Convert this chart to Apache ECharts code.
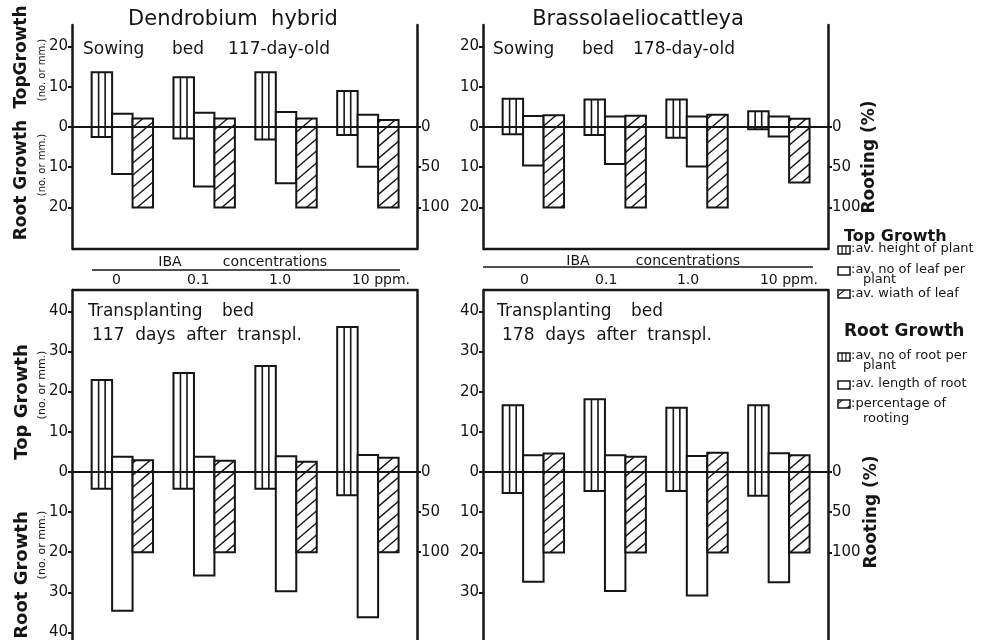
<!DOCTYPE html>
<html><head><meta charset="utf-8">
<script src="https://cdn.jsdelivr.net/npm/echarts@6/dist/echarts.min.js"></script>
<style>html,body{margin:0;padding:0;background:#fff}#c{width:1002px;height:640px}</style>
</head><body><div id="c"></div><script>
// ---------- data ----------
const concLabels = ['0', '0.1', '1.0', '10 ppm.'];
// Dendrobium hybrid, sowing bed (117-day-old)
const dsHeight   = [13.6, 12.3, 13.6, 8.9];
const dsLeafNo   = [3.3, 3.5, 3.7, 3.0];
const dsLeafWid  = [2.1, 2.1, 2.1, 1.7];
const dsRootNo   = [2.5, 2.9, 3.1, 2.0];
const dsRootLen  = [11.7, 14.8, 14.0, 9.9];
const dsRooting  = [100, 100, 100, 100];
// Brassolaeliocattleya, sowing bed (178-day-old)
const bsHeight   = [7.0, 6.8, 6.8, 3.9];
const bsLeafNo   = [2.7, 2.6, 2.6, 2.6];
const bsLeafWid  = [2.9, 2.75, 3.0, 2.0];
const bsRootNo   = [1.8, 2.0, 2.7, 0.6];
const bsRootLen  = [9.6, 9.2, 9.8, 2.4];
const bsRooting  = [100, 100, 100, 69];
// Dendrobium hybrid, transplanting bed (117 days after transpl.)
const dtHeight   = [22.9, 24.6, 26.4, 36.1];
const dtLeafNo   = [3.75, 3.75, 3.9, 4.2];
const dtLeafWid  = [2.9, 2.75, 2.5, 3.5];
const dtRootNo   = [4.2, 4.2, 4.2, 5.8];
const dtRootLen  = [34.6, 25.8, 29.7, 36.2];
const dtRooting  = [100, 100, 100, 100];
// Brassolaeliocattleya, transplanting bed (178 days after transpl.)
const btHeight   = [16.6, 18.1, 16.0, 16.6];
const btLeafNo   = [4.15, 4.15, 4.0, 4.65];
const btLeafWid  = [4.6, 3.8, 4.8, 4.2];
const btRootNo   = [5.2, 4.7, 4.7, 5.9];
const btRootLen  = [27.3, 29.6, 30.7, 27.4];
const btRooting  = [100, 100, 100, 100];
// tick labels
const topTicks      = [-20, -10, 0, 10, 20];
const botLeftTicks  = [-40, -30, -20, -10, 0, 10, 20, 30, 40];
const botRightTicks = [-30, -20, -10, 0, 10, 20, 30, 40];
const rootingTicks  = [0, 50, 100];

// ---------- style / layout ----------
const FONT = 'DejaVu Sans';
const INK = '#151515';
const XMIN = -0.615, XMAX = 3.6, BW = 0.25;
const PW = 345;

const panels = [
  {left: 72,  top: 25,  h: 224, ext: [-30.3, 25.3], root: [-126.5, 151.5], ticks: topTicks,
   d: [dsHeight, dsRootNo, dsLeafNo, dsRootLen, dsLeafWid, dsRooting]},
  {left: 483, top: 25,  h: 224, ext: [-30.3, 25.3], root: [-126.5, 151.5], ticks: topTicks,
   d: [bsHeight, bsRootNo, bsLeafNo, bsRootLen, bsLeafWid, bsRooting]},
  {left: 72,  top: 290, h: 350, ext: [-41.8, 45.3], root: [-226.5, 209], ticks: botLeftTicks,
   d: [dtHeight, dtRootNo, dtLeafNo, dtRootLen, dtLeafWid, dtRooting]},
  {left: 483, top: 290, h: 350, ext: [-41.8, 45.3], root: [-226.5, 209], ticks: botRightTicks,
   d: [btHeight, btRootNo, btLeafNo, btRootLen, btLeafWid, btRooting]}
];

const HS = 0.85, HSTEP = 12;
function hatchLines(x0, x1, yt, yb, lw) {
  const out = [];
  const cmin = yt + HS * x0, cmax = yb + HS * x1;
  for (let C = Math.ceil(cmin / HSTEP) * HSTEP; C <= cmax; C += HSTEP) {
    let ax = x0, ay = C - HS * x0, bx = x1, by = C - HS * x1;
    if (ay > yb) { ax = (C - yb) / HS; ay = yb; }
    if (by < yt) { bx = (C - yt) / HS; by = yt; }
    if (bx - ax > 0.5) out.push({type: 'line', shape: {x1: ax, y1: ay, x2: bx, y2: by},
      style: {stroke: INK, lineWidth: lw}});
  }
  return out;
}
function barShape(kind, x0, x1, yt, yb, lw) {
  const ch = [{type: 'rect', shape: {x: x0, y: yt, width: x1 - x0, height: yb - yt}, style: {fill: '#fff', stroke: null}}];
  if (kind === 'stripe') {
    [0.34, 0.66].forEach(f => {
      const x = x0 + (x1 - x0) * f;
      ch.push({type: 'line', shape: {x1: x, y1: yt, x2: x, y2: yb}, style: {stroke: INK, lineWidth: lw * 0.8}});
    });
  } else if (kind === 'hatch') {
    hatchLines(x0, x1, yt, yb, lw * 0.7).forEach(l => ch.push(l));
  }
  ch.push({type: 'rect', shape: {x: x0, y: yt, width: x1 - x0, height: yb - yt}, style: {fill: null, stroke: INK, lineWidth: lw}});
  return ch;
}
function renderer(kind, slot) {
  return function (params, api) {
    const i = api.value(0), v = api.value(1);
    const a = api.coord([i + slot * BW - BW / 2, 0]);
    const b = api.coord([i + slot * BW + BW / 2, v]);
    const x0 = Math.min(a[0], b[0]), x1 = Math.max(a[0], b[0]);
    const yt = Math.min(a[1], b[1]), yb = Math.max(a[1], b[1]);
    return {type: 'group', children: barShape(kind, x0, x1, yt, yb, 2)};
  };
}
// zero baseline drawn through the panel's own scales
function zeroLine(params, api) {
  const a = api.coord([XMIN, 0]), b = api.coord([XMAX, 0]);
  return {type: 'line', shape: {x1: a[0], y1: a[1], x2: b[0], y2: b[1]}, style: {stroke: INK, lineWidth: 2}};
}
const mk = (vals, sign) => vals.map((v, i) => [i, sign * v]);

const grids = [], xAxes = [], yAxes = [], series = [];
const kinds = [['stripe', -1, 1, 0], ['stripe', -1, -1, 0], ['open', 0, 1, 0], ['open', 0, -1, 0], ['hatch', 1, 1, 0], ['hatch', 1, 1, 1]];
const names = ['av. height of plant', 'av. no of root per plant', 'av. no of leaf per plant', 'av. length of root', 'av. wiath of leaf', 'percentage of rooting'];
panels.forEach((p, k) => {
  grids.push({left: p.left, top: p.top, width: PW, height: p.h});
  xAxes.push({gridIndex: k, type: 'value', min: XMIN, max: XMAX, position: 'bottom',
    axisLine: {show: false, onZero: false}, axisTick: {show: false}, axisLabel: {show: false}, splitLine: {show: false}});
  yAxes.push({gridIndex: k, type: 'value', min: p.ext[0], max: p.ext[1], position: 'left',
    axisLine: {show: true, onZero: false, lineStyle: {color: INK, width: 2.5}},
    axisTick: {show: true, customValues: p.ticks, length: 4, lineStyle: {color: INK, width: 2}},
    axisLabel: {show: true, customValues: p.ticks, formatter: v => String(Math.abs(v)), fontSize: 15, color: INK, margin: 4, fontFamily: FONT},
    splitLine: {show: false}});
  yAxes.push({gridIndex: k, type: 'value', min: p.root[0], max: p.root[1], inverse: true, position: 'right',
    axisLine: {show: true, onZero: false, lineStyle: {color: INK, width: 2.5}},
    axisTick: {show: true, customValues: rootingTicks, length: 4, lineStyle: {color: INK, width: 2}},
    axisLabel: {show: true, customValues: rootingTicks, fontSize: 15, color: INK, margin: 4, fontFamily: FONT},
    splitLine: {show: false}});
  series.push({type: 'custom', name: 'baseline', xAxisIndex: k, yAxisIndex: 2 * k, z: 1,
    data: [[0, 0]], renderItem: zeroLine, animation: false, silent: true});
  kinds.forEach((kd, j) => {
    series.push({type: 'custom', name: names[j], xAxisIndex: k, yAxisIndex: 2 * k + kd[3], z: 2,
      data: mk(p.d[j], kd[2]), renderItem: renderer(kd[0], kd[1]), animation: false});
  });
});

// ---------- text / decorations ----------
const T = (text, x, y, size, opt) => Object.assign({type: 'text', x: x, y: y,
  style: Object.assign({text: text, fill: INK, font: (opt && opt.weight ? opt.weight + ' ' : '') + size + 'px "' + FONT + '"',
    textAlign: (opt && opt.align) || 'left', textVerticalAlign: 'middle'})},
  opt && opt.rot ? {rotation: Math.PI / 2} : {});
function icon(kind, x, y) {
  return {type: 'group', children: barShape(kind, x, x + 12, y - 4, y + 4, 1.5)};
}
const boxTop = panels[0].top + panels[0].h, boxBot = panels[2].top;
const L = (x1, y1, x2, y2, w) => ({type: 'line', shape: {x1: x1, y1: y1, x2: x2, y2: y2}, style: {stroke: INK, lineWidth: w}});
const graphics = [
  L(panels[0].left, boxTop, panels[0].left + PW, boxTop, 2.5),
  L(panels[1].left, boxTop, panels[1].left + PW, boxTop, 2.5),
  L(panels[2].left, boxBot, panels[2].left + PW, boxBot, 2.5),
  L(panels[3].left, boxBot, panels[3].left + PW, boxBot, 2.5),
  T('Dendrobium  hybrid', 233, 20, 21, {align: 'center'}),
  T('Brassolaeliocattleya', 638, 20, 21, {align: 'center'}),
  T('Sowing', 83, 50, 17), T('bed', 172, 50, 17), T('117-day-old', 228, 50, 17),
  T('Sowing', 493, 50, 17), T('bed', 582, 50, 17), T('178-day-old', 633, 50, 17),
  T('Transplanting', 88, 312, 17), T('bed', 222, 312, 17),
  T('117  days  after  transpl.', 92, 336, 17),
  T('Transplanting', 497, 312, 17), T('bed', 631, 312, 17),
  T('178  days  after  transpl.', 502, 336, 17),
  T('TopGrowth', 22, 57, 17, {rot: true, align: 'center', weight: 'bold'}),
  T('(no. or mm.)', 42, 70, 10, {rot: true, align: 'center'}),
  T('Root Growth', 22, 180, 17, {rot: true, align: 'center', weight: 'bold'}),
  T('(no. or mm.)', 42, 165, 10, {rot: true, align: 'center'}),
  T('Top Growth', 22, 402, 18, {rot: true, align: 'center', weight: 'bold'}),
  T('(no. or mm.)', 42, 385, 11, {rot: true, align: 'center'}),
  T('Root Growth', 22, 575, 18, {rot: true, align: 'center', weight: 'bold'}),
  T('(no. or mm.)', 42, 545, 11, {rot: true, align: 'center'}),
  T('Rooting (%)', 870, 157, 17, {rot: true, align: 'center', weight: 'bold'}),
  T('Rooting (%)', 872, 512, 17, {rot: true, align: 'center', weight: 'bold'}),
  T('IBA', 170, 262, 14, {align: 'center'}), T('concentrations', 275, 262, 14, {align: 'center'}),
  T('IBA', 578, 261, 14, {align: 'center'}), T('concentrations', 688, 261, 14, {align: 'center'}),
  L(92, 270, 400, 270, 1.5),
  L(483, 267, 813, 267, 1.5),
  T('Top Growth', 844, 237, 16, {weight: 'bold'}),
  icon('stripe', 838, 250), T(':av. height of plant', 851, 249, 13),
  icon('open', 838, 271), T(':av. no of leaf per', 851, 270, 13), T('plant', 863, 280, 13),
  icon('hatch', 838, 294), T(':av. wiath of leaf', 851, 294, 13),
  T('Root Growth', 844, 332, 17, {weight: 'bold'}),
  icon('stripe', 838, 357), T(':av. no of root per', 851, 356, 13), T('plant', 863, 366, 13),
  icon('open', 838, 385), T(':av. length of root', 851, 384, 13),
  icon('hatch', 838, 404), T(':percentage of', 851, 404, 13), T('rooting', 863, 419, 13)
];

const chart = echarts.init(document.getElementById('c'), null, {renderer: 'canvas'});
chart.setOption({
  animation: false,
  backgroundColor: '#fff',
  grid: grids, xAxis: xAxes, yAxis: yAxes, series: series
});
// concentration labels placed through the bottom panels' x scales
[2, 3].forEach(k => {
  concLabels.forEach((lab, i) => {
    const px = chart.convertToPixel({xAxisIndex: k}, i);
    const last = i === concLabels.length - 1;
    const shift = k === 2 ? 6 : 9;
    graphics.push(T(lab, last ? px - 16 - (shift - 6) : px - shift, 280, 14, {align: last ? 'left' : 'center'}));
  });
});
chart.setOption({graphic: graphics});
</script></body></html>
